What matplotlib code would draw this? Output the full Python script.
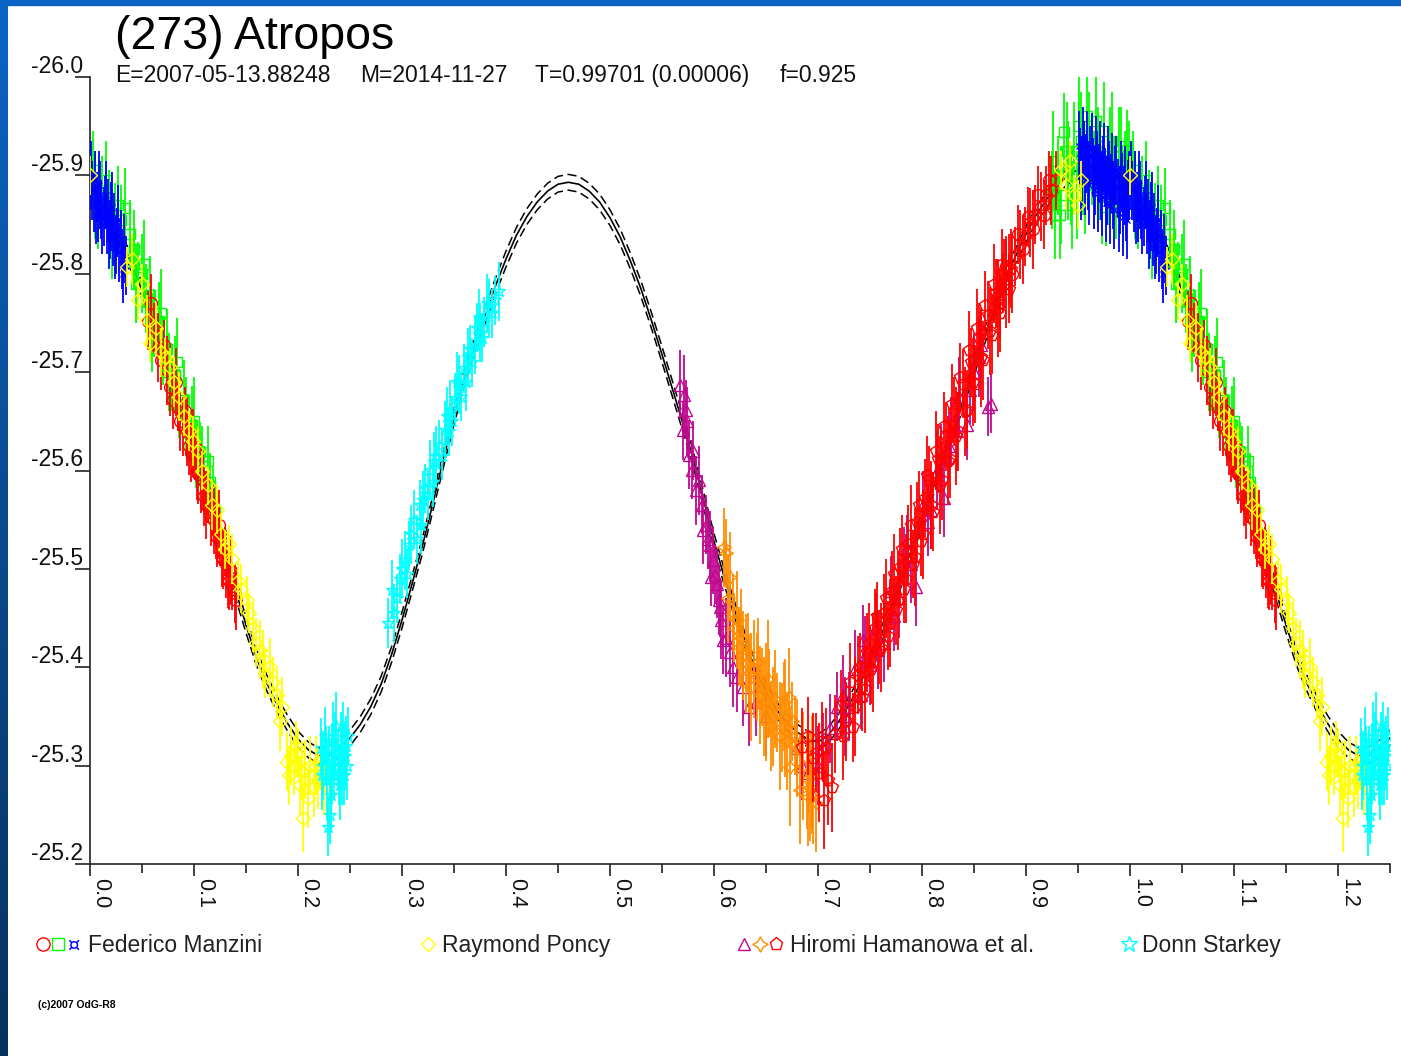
import numpy as np
import matplotlib.pyplot as plt
from matplotlib import transforms
from matplotlib.colors import LinearSegmentedColormap
from matplotlib.patches import Rectangle
from matplotlib.ticker import MultipleLocator

plt.rcParams['font.family'] = ['Liberation Sans', 'DejaVu Sans']

OUT_PATH = "out.png"

TITLE = "(273) Atropos"
SUBTITLE = ["E=2007-05-13.88248", "M=2014-11-27", "T=0.99701 (0.00006)", "f=0.925"]
LEGEND_NAMES = ["Federico Manzini", "Raymond Poncy", "Hiromi Hamanowa et al.", "Donn Starkey"]
COPYRIGHT = "(c)2007 OdG-R8"

# fitted light curve (phase, reduced magnitude)
curve_phase = [0.00, 0.01, 0.02, 0.03, 0.04, 0.05, 0.06, 0.07, 0.08, 0.09,
               0.10, 0.11, 0.12, 0.13, 0.14, 0.15, 0.16, 0.17, 0.18, 0.19,
               0.20, 0.21, 0.22, 0.23, 0.24, 0.25, 0.26, 0.27, 0.28, 0.29,
               0.30, 0.31, 0.32, 0.33, 0.34, 0.35, 0.36, 0.37, 0.38, 0.39,
               0.40, 0.41, 0.42, 0.43, 0.44, 0.45, 0.46, 0.47, 0.48, 0.49,
               0.50, 0.51, 0.52, 0.53, 0.54, 0.55, 0.56, 0.57, 0.58, 0.59,
               0.60, 0.61, 0.62, 0.63, 0.64, 0.65, 0.66, 0.67, 0.68, 0.69,
               0.70, 0.71, 0.72, 0.73, 0.74, 0.75, 0.76, 0.77, 0.78, 0.79,
               0.80, 0.81, 0.82, 0.83, 0.84, 0.85, 0.86, 0.87, 0.88, 0.89,
               0.90, 0.91, 0.92, 0.93, 0.94, 0.95, 0.96, 0.97, 0.98, 0.99,
               1.00]
curve_mag = [-25.888, -25.873, -25.856, -25.834, -25.810, -25.783, -25.755, -25.721, -25.686, -25.654,
             -25.622, -25.587, -25.552, -25.514, -25.478, -25.443, -25.410, -25.384, -25.362, -25.343,
             -25.327, -25.316, -25.310, -25.311, -25.318, -25.328, -25.342, -25.360, -25.383, -25.413,
             -25.448, -25.486, -25.525, -25.568, -25.612, -25.655, -25.694, -25.728, -25.758, -25.788,
             -25.815, -25.839, -25.858, -25.873, -25.884, -25.891, -25.893, -25.891, -25.884, -25.873,
             -25.857, -25.837, -25.812, -25.784, -25.752, -25.718, -25.683, -25.648, -25.612, -25.570,
             -25.528, -25.491, -25.458, -25.426, -25.397, -25.375, -25.357, -25.344, -25.334, -25.327,
             -25.324, -25.331, -25.345, -25.362, -25.382, -25.405, -25.430, -25.459, -25.490, -25.520,
             -25.550, -25.580, -25.610, -25.641, -25.673, -25.705, -25.736, -25.765, -25.793, -25.818,
             -25.840, -25.860, -25.876, -25.889, -25.899, -25.906, -25.910, -25.909, -25.903, -25.896,
             -25.888]
curve_band = 0.008

# Federico Manzini - red circles
mr_phase = [0.056, 0.062, 0.068, 0.074, 0.080, 0.085, 0.089, 0.093, 0.097, 0.101,
            0.104, 0.107, 0.110, 0.113, 0.116, 0.119, 0.122, 0.125, 0.128, 0.131,
            0.134, 0.137, 0.140, 0.872, 0.878, 0.884, 0.889, 0.894, 0.899, 0.904,
            0.909, 0.914, 0.919, 0.924, 0.929,
            0.059, 0.065, 0.071, 0.077, 0.083, 0.087, 0.091, 0.095, 0.099, 0.103,
            0.109, 0.112, 0.118, 0.121, 0.124, 0.127, 0.130, 0.133, 0.136, 0.139,
            0.875, 0.881, 0.887, 0.892, 0.897, 0.902, 0.907, 0.912, 0.917, 0.922]
mr_mag = [-25.752, -25.745, -25.712, -25.702, -25.672, -25.665, -25.645, -25.640, -25.618, -25.615,
          -25.596, -25.592, -25.574, -25.572, -25.553, -25.550, -25.532, -25.528, -25.510, -25.505,
          -25.488, -25.483, -25.468, -25.775, -25.790, -25.805, -25.818, -25.830, -25.838, -25.852,
          -25.860, -25.868, -25.880, -25.885, -25.895,
          -25.770, -25.725, -25.728, -25.685, -25.690, -25.650, -25.660, -25.625, -25.628, -25.600,
          -25.590, -25.565, -25.560, -25.540, -25.545, -25.512, -25.518, -25.490, -25.498, -25.475,
          -25.770, -25.808, -25.800, -25.840, -25.825, -25.858, -25.845, -25.880, -25.860, -25.895]
mr_err = [0.030, 0.025, 0.030, 0.035, 0.030, 0.025, 0.030, 0.035, 0.030, 0.025,
          0.030, 0.035, 0.030, 0.025, 0.030, 0.035, 0.030, 0.025, 0.030, 0.035,
          0.030, 0.025, 0.030, 0.030, 0.030, 0.035, 0.030, 0.035, 0.030, 0.035,
          0.030, 0.035, 0.030, 0.035, 0.030,
          0.030, 0.035, 0.025, 0.030, 0.035, 0.030, 0.025, 0.030, 0.035, 0.030,
          0.030, 0.035, 0.025, 0.030, 0.035, 0.030, 0.025, 0.030, 0.035, 0.030,
          0.035, 0.030, 0.040, 0.030, 0.035, 0.030, 0.040, 0.030, 0.035, 0.030]

# Federico Manzini - green squares
mg_phase = [0.003, 0.008, 0.012, 0.018, 0.024, 0.030, 0.034, 0.038, 0.042, 0.046,
            0.050, 0.054, 0.058, 0.062, 0.066, 0.070, 0.074, 0.078, 0.082, 0.086,
            0.090, 0.094, 0.098, 0.102, 0.106, 0.110, 0.115, 0.120,
            0.925, 0.928, 0.931, 0.934, 0.937, 0.940, 0.943, 0.946, 0.949, 0.953,
            0.957, 0.961, 0.965, 0.969, 0.973, 0.977, 0.981, 0.985, 0.989, 0.993,
            0.997,
            0.005, 0.015, 0.021, 0.027, 0.044, 0.052, 0.060, 0.068, 0.076, 0.084,
            0.092, 0.100, 0.108, 0.113, 0.118, 0.926, 0.933, 0.939, 0.944, 0.951,
            0.955, 0.959, 0.963, 0.967, 0.971, 0.975, 0.979, 0.983, 0.987, 0.991,
            0.995, 0.999]
mg_mag = [-25.905, -25.860, -25.880, -25.870, -25.852, -25.855, -25.867, -25.840, -25.825, -25.797,
          -25.800, -25.775, -25.778, -25.750, -25.752, -25.722, -25.724, -25.695, -25.697, -25.668,
          -25.672, -25.643, -25.646, -25.617, -25.619, -25.590, -25.588, -25.560,
          -25.885, -25.860, -25.900, -25.880, -25.944, -25.905, -25.890, -25.925, -25.880, -25.935,
          -25.890, -25.940, -25.895, -25.930, -25.880, -25.868, -25.920, -25.895, -25.930, -25.875,
          -25.926,
          -25.880, -25.895, -25.840, -25.870, -25.790, -25.810, -25.740, -25.760, -25.700, -25.710,
          -25.655, -25.650, -25.605, -25.610, -25.570, -25.915, -25.860, -25.925, -25.870, -25.950,
          -25.905, -25.960, -25.915, -25.955, -25.900, -25.945, -25.895, -25.935, -25.880, -25.920,
          -25.900, -25.905]
mg_err = [0.040, 0.035, 0.040, 0.035, 0.040, 0.035, 0.040, 0.035, 0.040, 0.035,
          0.040, 0.035, 0.040, 0.035, 0.040, 0.035, 0.040, 0.035, 0.040, 0.035,
          0.040, 0.035, 0.040, 0.035, 0.030, 0.035, 0.030, 0.030,
          0.040, 0.045, 0.040, 0.050, 0.040, 0.050, 0.040, 0.050, 0.045, 0.050,
          0.050, 0.045, 0.050, 0.040, 0.050, 0.040, 0.050, 0.045, 0.040, 0.050,
          0.040,
          0.045, 0.040, 0.045, 0.040, 0.040, 0.045, 0.040, 0.045, 0.040, 0.045,
          0.040, 0.045, 0.040, 0.035, 0.035, 0.050, 0.045, 0.050, 0.045, 0.050,
          0.045, 0.050, 0.045, 0.050, 0.045, 0.050, 0.045, 0.050, 0.045, 0.050,
          0.045, 0.050]

# Federico Manzini - blue
mb_phase = [0.002, 0.004, 0.005, 0.007, 0.008, 0.010, 0.011, 0.013, 0.014, 0.016,
            0.017, 0.019, 0.020, 0.022, 0.023, 0.025, 0.026, 0.028, 0.030, 0.031,
            0.033, 0.035,
            0.952, 0.954, 0.956, 0.958, 0.960, 0.962, 0.964, 0.966, 0.968, 0.970,
            0.972, 0.974, 0.976, 0.978, 0.980, 0.982, 0.984, 0.986, 0.988, 0.990,
            0.992, 0.994, 0.996, 0.998,
            0.001, 0.006, 0.009, 0.012, 0.015, 0.018, 0.021, 0.024, 0.027, 0.032,
            0.951, 0.953, 0.955, 0.957, 0.959, 0.961, 0.963, 0.965, 0.967, 0.969,
            0.971, 0.973, 0.975, 0.977, 0.979, 0.981, 0.983, 0.985, 0.987, 0.989,
            0.991, 0.993, 0.995, 0.997, 0.999]
mb_mag = [-25.885, -25.872, -25.895, -25.878, -25.862, -25.880, -25.865, -25.858, -25.874, -25.850,
          -25.866, -25.845, -25.858, -25.838, -25.852, -25.830, -25.842, -25.822, -25.835, -25.815,
          -25.826, -25.808,
          -25.918, -25.905, -25.925, -25.912, -25.900, -25.920, -25.908, -25.895, -25.915, -25.902,
          -25.890, -25.910, -25.898, -25.885, -25.905, -25.892, -25.880, -25.900, -25.887, -25.875,
          -25.893, -25.880, -25.868, -25.886,
          -25.900, -25.860, -25.890, -25.850, -25.880, -25.835, -25.868, -25.825, -25.855, -25.800,
          -25.930, -25.895, -25.935, -25.900, -25.930, -25.890, -25.928, -25.885, -25.925, -25.882,
          -25.920, -25.878, -25.918, -25.872, -25.915, -25.870, -25.908, -25.865, -25.905, -25.862,
          -25.900, -25.858, -25.895, -25.855, -25.890]
mb_err = [0.030, 0.030, 0.030, 0.025, 0.030, 0.035, 0.030, 0.030, 0.025, 0.030,
          0.030, 0.030, 0.035, 0.030, 0.030, 0.030, 0.025, 0.030, 0.030, 0.030,
          0.035, 0.030,
          0.030, 0.035, 0.030, 0.030, 0.035, 0.030, 0.030, 0.035, 0.030, 0.030,
          0.035, 0.030, 0.030, 0.035, 0.030, 0.030, 0.035, 0.030, 0.030, 0.035,
          0.030, 0.030, 0.035, 0.030,
          0.035, 0.030, 0.035, 0.030, 0.035, 0.030, 0.035, 0.030, 0.035, 0.030,
          0.035, 0.040, 0.035, 0.040, 0.035, 0.040, 0.035, 0.040, 0.035, 0.040,
          0.035, 0.040, 0.035, 0.040, 0.035, 0.040, 0.035, 0.040, 0.035, 0.040,
          0.035, 0.040, 0.035, 0.040, 0.035]

# Raymond Poncy - yellow diamonds
rp_phase = [0.000, 0.036, 0.040, 0.046, 0.055, 0.058, 0.063, 0.072, 0.081, 0.090,
            0.099, 0.108, 0.117, 0.126, 0.134, 0.137, 0.142, 0.151, 0.153, 0.160,
            0.166, 0.168, 0.173, 0.180, 0.185, 0.189, 0.193, 0.196, 0.200, 0.204,
            0.205, 0.207, 0.210, 0.212, 0.215, 0.219, 0.222, 0.225,
            0.934, 0.938, 0.942, 0.946, 0.950, 0.953,
            0.050, 0.068, 0.077, 0.086, 0.095, 0.104, 0.113, 0.122, 0.130, 0.145,
            0.157, 0.163, 0.176, 0.183, 0.191, 0.198, 0.202, 0.217]
rp_mag = [-25.900, -25.807, -25.815, -25.773, -25.753, -25.730, -25.745, -25.715, -25.690, -25.655,
          -25.630, -25.600, -25.565, -25.535, -25.525, -25.510, -25.488, -25.468, -25.455, -25.425,
          -25.408, -25.394, -25.400, -25.372, -25.360, -25.304, -25.310, -25.300, -25.312, -25.295,
          -25.247, -25.296, -25.267, -25.300, -25.278, -25.286, -25.305, -25.280,
          -25.905, -25.890, -25.915, -25.880, -25.870, -25.895,
          -25.790, -25.720, -25.705, -25.675, -25.640, -25.620, -25.585, -25.560, -25.520, -25.480,
          -25.440, -25.418, -25.385, -25.345, -25.290, -25.320, -25.280, -25.300]
rp_err = [0.020, 0.020, 0.025, 0.020, 0.025, 0.020, 0.025, 0.020, 0.025, 0.020,
          0.025, 0.020, 0.025, 0.020, 0.020, 0.025, 0.020, 0.025, 0.020, 0.025,
          0.030, 0.025, 0.030, 0.025, 0.030, 0.030, 0.030, 0.030, 0.025, 0.030,
          0.035, 0.030, 0.030, 0.030, 0.030, 0.030, 0.030, 0.030,
          0.020, 0.025, 0.020, 0.020, 0.025, 0.020,
          0.020, 0.025, 0.020, 0.025, 0.020, 0.025, 0.020, 0.025, 0.020, 0.025,
          0.025, 0.030, 0.025, 0.030, 0.030, 0.025, 0.030, 0.030]

# Hiromi Hamanowa et al. - purple triangles
hp_phase = [0.567, 0.570, 0.571, 0.573, 0.576, 0.579, 0.583, 0.588, 0.589, 0.592,
            0.596, 0.597, 0.599, 0.601, 0.605, 0.606, 0.607, 0.609, 0.618, 0.622,
            0.634,
            0.680, 0.685, 0.690, 0.694, 0.712, 0.718, 0.724, 0.730, 0.736, 0.743,
            0.750, 0.756, 0.763, 0.770, 0.778, 0.786, 0.794, 0.801, 0.809, 0.818,
            0.821, 0.828, 0.836, 0.843, 0.850, 0.857, 0.863, 0.866,
            0.726, 0.741, 0.758, 0.773, 0.789, 0.806, 0.814, 0.826, 0.834, 0.846,
            0.855, 0.700, 0.705, 0.745, 0.783,
            0.574, 0.580, 0.586, 0.594, 0.603, 0.612, 0.615, 0.628, 0.640, 0.650]
hp_mag = [-25.687, -25.641, -25.677, -25.662, -25.616, -25.601, -25.580, -25.565, -25.540, -25.545,
          -25.524, -25.492, -25.509, -25.494, -25.468, -25.461, -25.448, -25.428, -25.400, -25.390,
          -25.360,
          -25.318, -25.300, -25.292, -25.272, -25.338, -25.360, -25.372, -25.360, -25.398, -25.428,
          -25.402, -25.440, -25.425, -25.478, -25.470, -25.520, -25.482, -25.565, -25.560, -25.612,
          -25.572, -25.640, -25.675, -25.646, -25.700, -25.728, -25.665, -25.668,
          -25.350, -25.372, -25.418, -25.452, -25.505, -25.548, -25.600, -25.625, -25.640, -25.682,
          -25.715, -25.300, -25.318, -25.412, -25.508,
          -25.650, -25.620, -25.590, -25.530, -25.485, -25.430, -25.415, -25.380, -25.365, -25.350]
hp_err = [0.035, 0.030, 0.040, 0.030, 0.035, 0.030, 0.035, 0.030, 0.035, 0.030,
          0.035, 0.030, 0.035, 0.030, 0.035, 0.030, 0.040, 0.035, 0.040, 0.035,
          0.040,
          0.030, 0.035, 0.040, 0.035, 0.035, 0.035, 0.040, 0.035, 0.040, 0.035,
          0.040, 0.035, 0.040, 0.035, 0.040, 0.035, 0.040, 0.035, 0.040, 0.035,
          0.040, 0.035, 0.040, 0.035, 0.040, 0.035, 0.030, 0.030,
          0.040, 0.035, 0.040, 0.035, 0.040, 0.035, 0.040, 0.035, 0.040, 0.035,
          0.040, 0.040, 0.035, 0.040, 0.035,
          0.035, 0.030, 0.035, 0.030, 0.035, 0.040, 0.035, 0.040, 0.035, 0.040]

# Hiromi Hamanowa et al. - orange diamonds
ho_phase = [0.610, 0.612, 0.615, 0.618, 0.619, 0.622, 0.624, 0.628, 0.631, 0.634,
            0.638, 0.641, 0.644, 0.646, 0.650, 0.653, 0.657, 0.661, 0.665, 0.668,
            0.672, 0.673, 0.678, 0.689, 0.692, 0.690, 0.695,
            0.613, 0.626, 0.633, 0.636, 0.642, 0.648, 0.652, 0.655, 0.659, 0.663,
            0.667, 0.670, 0.675, 0.680, 0.686, 0.694, 0.698, 0.683]
ho_mag = [-25.522, -25.516, -25.492, -25.455, -25.440, -25.448, -25.421, -25.412, -25.404, -25.394,
          -25.398, -25.390, -25.372, -25.380, -25.365, -25.374, -25.350, -25.354, -25.339, -25.348,
          -25.370, -25.299, -25.330, -25.286, -25.278, -25.268, -25.270,
          -25.470, -25.430, -25.415, -25.380, -25.405, -25.360, -25.388, -25.340, -25.368, -25.330,
          -25.360, -25.325, -25.345, -25.318, -25.300, -25.290, -25.262, -25.275]
ho_err = [0.040, 0.035, 0.045, 0.040, 0.035, 0.050, 0.040, 0.045, 0.050, 0.040,
          0.050, 0.045, 0.050, 0.040, 0.060, 0.045, 0.050, 0.040, 0.045, 0.060,
          0.050, 0.060, 0.040, 0.050, 0.055, 0.050, 0.050,
          0.045, 0.050, 0.040, 0.055, 0.045, 0.050, 0.060, 0.045, 0.050, 0.055,
          0.045, 0.050, 0.040, 0.050, 0.055, 0.060, 0.050, 0.055]

# Hiromi Hamanowa et al. - red pentagons
hr_phase = [0.685, 0.690, 0.695, 0.698, 0.701, 0.704, 0.706, 0.708, 0.710, 0.713,
            0.716, 0.722, 0.727, 0.734, 0.738, 0.742, 0.747, 0.751, 0.755, 0.759,
            0.763, 0.767, 0.771, 0.775, 0.779, 0.783, 0.787, 0.791, 0.795, 0.799,
            0.803, 0.807, 0.811, 0.815, 0.819, 0.823, 0.827, 0.831, 0.835, 0.839,
            0.843, 0.847, 0.851, 0.855, 0.859, 0.863, 0.867, 0.871, 0.875, 0.879,
            0.884,
            0.724, 0.731, 0.736, 0.740, 0.745, 0.749, 0.753, 0.757, 0.761, 0.765,
            0.769, 0.773, 0.777, 0.781, 0.785, 0.789, 0.793, 0.797, 0.801, 0.805,
            0.809, 0.813, 0.817, 0.821, 0.825, 0.829, 0.833, 0.837, 0.841, 0.845,
            0.849, 0.853, 0.857, 0.861, 0.865, 0.869, 0.873, 0.877, 0.881, 0.886]
hr_mag = [-25.319, -25.330, -25.308, -25.313, -25.293, -25.325, -25.265, -25.319, -25.285, -25.278,
          -25.332, -25.362, -25.345, -25.339, -25.392, -25.370, -25.415, -25.398, -25.440, -25.418,
          -25.455, -25.432, -25.478, -25.458, -25.502, -25.480, -25.525, -25.505, -25.548, -25.528,
          -25.572, -25.590, -25.558, -25.612, -25.590, -25.635, -25.612, -25.660, -25.640, -25.688,
          -25.662, -25.710, -25.688, -25.735, -25.712, -25.758, -25.738, -25.780, -25.760, -25.800,
          -25.785,
          -25.330, -25.385, -25.360, -25.400, -25.378, -25.425, -25.405, -25.452, -25.420, -25.470,
          -25.445, -25.495, -25.468, -25.520, -25.490, -25.545, -25.512, -25.565, -25.535, -25.595,
          -25.565, -25.620, -25.585, -25.645, -25.610, -25.668, -25.635, -25.695, -25.660, -25.722,
          -25.690, -25.745, -25.715, -25.768, -25.742, -25.790, -25.765, -25.810, -25.790, -25.805]
hr_err = [0.040, 0.040, 0.045, 0.040, 0.050, 0.040, 0.050, 0.040, 0.045, 0.045,
          0.040, 0.035, 0.040, 0.035, 0.040, 0.035, 0.040, 0.035, 0.040, 0.035,
          0.040, 0.035, 0.040, 0.035, 0.040, 0.035, 0.040, 0.035, 0.040, 0.035,
          0.040, 0.035, 0.040, 0.035, 0.040, 0.035, 0.040, 0.035, 0.040, 0.035,
          0.040, 0.035, 0.040, 0.035, 0.040, 0.035, 0.040, 0.035, 0.040, 0.035,
          0.035,
          0.045, 0.040, 0.050, 0.035, 0.045, 0.040, 0.050, 0.035, 0.045, 0.040,
          0.045, 0.040, 0.050, 0.035, 0.045, 0.040, 0.050, 0.035, 0.045, 0.040,
          0.045, 0.040, 0.050, 0.035, 0.045, 0.040, 0.050, 0.035, 0.045, 0.040,
          0.045, 0.040, 0.050, 0.035, 0.045, 0.040, 0.050, 0.035, 0.045, 0.040]

# Donn Starkey - cyan stars
ds_phase = [0.222, 0.224, 0.226, 0.228, 0.229, 0.230, 0.231, 0.232, 0.234, 0.235,
            0.237, 0.238, 0.240, 0.241, 0.243, 0.244, 0.246, 0.247,
            0.287, 0.290, 0.298, 0.303, 0.307, 0.312, 0.317, 0.318, 0.322, 0.327,
            0.330, 0.331, 0.336, 0.341, 0.345, 0.346, 0.351, 0.355, 0.360, 0.362,
            0.365, 0.370, 0.372, 0.375, 0.379, 0.384, 0.389, 0.393,
            0.292, 0.295, 0.300, 0.305, 0.309, 0.314, 0.320, 0.325, 0.333, 0.338,
            0.343, 0.348, 0.353, 0.357, 0.363, 0.367, 0.374, 0.377, 0.382, 0.387,
            0.223, 0.227, 0.233, 0.236, 0.239, 0.242, 0.245, 0.248]
ds_mag = [-25.318, -25.300, -25.330, -25.285, -25.238, -25.310, -25.250, -25.270, -25.325, -25.295,
          -25.340, -25.305, -25.280, -25.315, -25.335, -25.290, -25.320, -25.300,
          -25.445, -25.479, -25.490, -25.509, -25.524, -25.550, -25.565, -25.545, -25.582, -25.601,
          -25.588, -25.609, -25.626, -25.641, -25.640, -25.662, -25.674, -25.687, -25.704, -25.690,
          -25.723, -25.728, -25.745, -25.740, -25.751, -25.765, -25.773, -25.782,
          -25.455, -25.470, -25.500, -25.495, -25.535, -25.530, -25.570, -25.575, -25.615, -25.615,
          -25.655, -25.650, -25.690, -25.675, -25.715, -25.710, -25.755, -25.735, -25.770, -25.760,
          -25.290, -25.310, -25.300, -25.320, -25.290, -25.300, -25.310, -25.330]
ds_err = [0.030, 0.035, 0.030, 0.040, 0.030, 0.030, 0.030, 0.035, 0.040, 0.030,
          0.035, 0.030, 0.035, 0.040, 0.030, 0.030, 0.030, 0.035,
          0.025, 0.030, 0.025, 0.030, 0.025, 0.030, 0.025, 0.030, 0.025, 0.030,
          0.025, 0.030, 0.025, 0.030, 0.025, 0.030, 0.025, 0.030, 0.025, 0.030,
          0.025, 0.030, 0.025, 0.030, 0.025, 0.030, 0.025, 0.030,
          0.030, 0.025, 0.030, 0.025, 0.030, 0.025, 0.030, 0.025, 0.030, 0.025,
          0.030, 0.025, 0.030, 0.025, 0.030, 0.025, 0.030, 0.025, 0.030, 0.025,
          0.035, 0.030, 0.040, 0.035, 0.030, 0.040, 0.035, 0.030]

RED = "#ff0000"
GREEN = "#00ff00"
BLUE = "#0000ff"
YELLOW = "#ffff00"
PURPLE = "#c0078f"
ORANGE = "#ff8c00"
CYAN = "#00ffff"

W, H = 1401, 1056


def fold(phase, *cols):
    # phases up to 0.25 are repeated after 1.0
    phase = np.asarray(phase)
    keep = phase <= 0.25
    out = [np.concatenate([phase, phase[keep] + 1.0])]
    for c in cols:
        c = np.asarray(c)
        out.append(np.concatenate([c, c[keep]]))
    return out


def draw_series(ax, phase, mag, err, color, marker, ms, z):
    p, m, e = fold(phase, mag, err)
    ax.errorbar(p, m, yerr=e, fmt="none", ecolor=color, elinewidth=1.3, capsize=0, zorder=z)
    ax.plot(p, m, ls="none", marker=marker, ms=ms, mfc="none", mec=color, mew=1.0, zorder=z)


def main():
    fig = plt.figure(figsize=(W / 100, H / 100), dpi=100, facecolor="white")

    # overlay in pixel coordinates for slide frame, titles and legend
    ov = fig.add_axes([0, 0, 1, 1])
    ov.axis("off")
    cmap = LinearSegmentedColormap.from_list("edge", ["#0b64c6", "#0a4a8e", "#06315e"])
    ov.imshow(np.linspace(0, 1, 256).reshape(-1, 1), cmap=cmap, aspect="auto",
              extent=(0, 7.5, H, 0), zorder=0)
    ov.add_patch(Rectangle((0, 0), W, 4.5, color="#0b64c6", zorder=0))
    ov.set_xlim(0, W)
    ov.set_ylim(H, 0)

    ov.text(115, 49, TITLE, fontsize=33.5, va="baseline", ha="left", color="black")
    for x, s in zip([115, 360, 535, 780], SUBTITLE):
        ov.text(x, 82, s, fontsize=16.5, va="baseline", ha="left", color="#111111")

    # legend
    ly = 944
    ov.plot(43, ly, "o", ms=9.5, mfc="none", mec=RED, mew=1.0)
    ov.plot(58, ly, "s", ms=8, mfc="none", mec=GREEN, mew=1.0)
    ov.text(73.5, ly + 1, "\u00a4", fontsize=14, color=BLUE, ha="center", va="center",
            family="DejaVu Sans")
    ov.plot(428, ly, "D", ms=7.5, mfc="none", mec=YELLOW, mew=1.0)
    ov.plot(744, ly, "^", ms=8, mfc="none", mec=PURPLE, mew=1.0)
    ov.plot(760, ly, marker=(4, 1, 0), ms=11, mfc="none", mec=ORANGE, mew=1.0)
    ov.plot(776, ly, "p", ms=9.5, mfc="none", mec=RED, mew=1.0)
    ov.plot(1129, ly, "*", ms=12, mfc="none", mec=CYAN, mew=1.0)
    for x, s in zip([88, 442, 790, 1142], LEGEND_NAMES):
        ov.text(x, 952, s, fontsize=16.5, va="baseline", ha="left", color="#222222")
    ov.text(38, 1008, COPYRIGHT, fontsize=7.5, fontweight="bold", va="baseline", ha="left",
            family=["Liberation Sans Narrow", "Liberation Sans", "DejaVu Sans"])

    # light curve axes
    ax = fig.add_axes([90 / W, 1 - 864 / H, 1300 / W, 787 / H])
    ax.patch.set_alpha(0)

    cp, cm = fold(curve_phase, curve_mag)
    order = np.argsort(cp, kind="stable")
    cp, cm = cp[order], cm[order]
    ax.plot(cp, cm, color="black", lw=1.2, zorder=2)
    ax.plot(cp, cm - curve_band, color="black", lw=1.1, dashes=(6, 3), zorder=2)
    ax.plot(cp, cm + curve_band, color="black", lw=1.1, dashes=(6, 3), zorder=2)

    draw_series(ax, mg_phase, mg_mag, mg_err, GREEN, "s", 7.5, 3)
    draw_series(ax, mr_phase, mr_mag, mr_err, RED, "o", 8.5, 4)
    draw_series(ax, mb_phase, mb_mag, mb_err, BLUE, "x", 4, 5)
    draw_series(ax, rp_phase, rp_mag, rp_err, YELLOW, "D", 7.5, 6)
    draw_series(ax, hp_phase, hp_mag, hp_err, PURPLE, "^", 8, 4)
    draw_series(ax, ho_phase, ho_mag, ho_err, ORANGE, (4, 1, 0), 10, 5)
    draw_series(ax, hr_phase, hr_mag, hr_err, RED, "p", 8.5, 6)
    draw_series(ax, ds_phase, ds_mag, ds_err, CYAN, "*", 9.5, 7)

    ax.set_xlim(0, 1.25)
    ax.set_ylim(-25.2, -26.0)

    for side in ("top", "right"):
        ax.spines[side].set_visible(False)
    for side in ("left", "bottom"):
        ax.spines[side].set_linewidth(1.2)
        ax.spines[side].set_color("#222222")

    ax.xaxis.set_major_locator(MultipleLocator(0.1))
    ax.xaxis.set_minor_locator(MultipleLocator(0.05))
    ax.yaxis.set_major_locator(MultipleLocator(0.1))
    ax.tick_params(axis="x", which="major", direction="out", length=8.6, width=1.2,
                   color="#222222", labelbottom=False)
    ax.tick_params(axis="x", which="minor", direction="out", length=6.8, width=1.2,
                   color="#222222")
    ax.tick_params(axis="y", which="major", direction="out", length=10.8, width=1.2,
                   color="#222222", labelleft=False)

    # tick labels drawn as texts so they sit like the original
    xt = transforms.blended_transform_factory(ax.transData, ax.transAxes)
    xoff = transforms.ScaledTranslation(0.0, -0.14, fig.dpi_scale_trans)
    for v in ax.get_xticks():
        if -1e-6 <= v <= 1.25 + 1e-6:
            ax.text(v, 0, f"{v:.1f}", transform=xt + xoff, rotation=-90, ha="left",
                    va="top", fontsize=15.5, color="#111111")
    yt = transforms.blended_transform_factory(ax.transAxes, ax.transData)
    yoff = transforms.ScaledTranslation(-0.07, 0.04, fig.dpi_scale_trans)
    for v in ax.get_yticks():
        if -26.0 - 1e-6 <= v <= -25.2 + 1e-6:
            ax.text(0, v, f"{v:.1f}", transform=yt + yoff, ha="right", va="baseline",
                    fontsize=16.5, color="#111111")

    fig.savefig(OUT_PATH, dpi=100)
    plt.close(fig)


if __name__ == "__main__":
    main()
